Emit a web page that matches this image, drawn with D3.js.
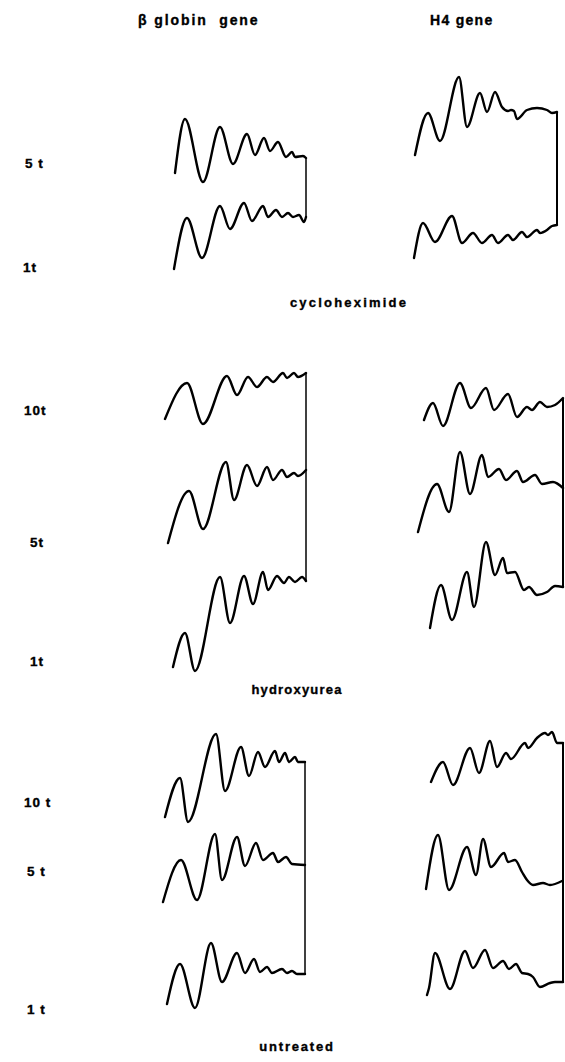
<!DOCTYPE html>
<html><head><meta charset="utf-8">
<script src="https://cdn.jsdelivr.net/npm/d3@7"></script>
<style>
body{margin:0;background:#fff}
svg{display:block}
text{font-family:"Liberation Sans",Arial,sans-serif;font-weight:bold;fill:#000;stroke:#000;stroke-width:0.35px}
</style></head>
<body><svg width="565" height="1062"></svg>
<script>
// Column headers, treatments and lane labels
const genes = ["β globin  gene", "H4 gene"];
const treatments = ["cycloheximide", "hydroxyurea", "untreated"];
const laneLabels = ["5 t", "1t", "10t", "5t", "1t", "10 t", "5 t", "1 t"];

// Densitometer traces: [migration distance, absorbance] (arbitrary units)
// cycloheximide
const cycloBeta5t = [[15,17],[25,71],[43,8],[60,63],[73,26],[87,56],[95,35],[104,52],[110,39],[118,48],[126,33],[132,38],[135,33],[143,34],[146,32]];
const cycloBeta1t = [[14,6],[27,57],[42,17],[60,69],[70,46],[84,72],[92,54],[103,69],[108,58],[116,65],[122,58],[128,62],[133,58],[139,60],[144,53],[146,58]];
const cycloH4_5t = [[5,35],[18,77],[30,49],[49,113],[57,63],[70,97],[77,78],[85,98],[92,83],[98,79],[101,80],[104,79],[107,71],[117,80],[127,82],[137,80],[142,77],[147,78]];
const cycloH4_1t = [[4,17],[13,52],[25,33],[42,59],[52,32],[63,42],[72,32],[82,40],[88,32],[98,40],[103,35],[112,43],[117,38],[127,45],[130,42],[137,45],[142,49],[147,50]];
// hydroxyurea
const hydroBeta10t = [[5,11],[27,47],[43,6],[67,54],[77,35],[88,53],[97,43],[107,53],[113,48],[123,57],[127,52],[134,57],[138,53],[146,57]];
const hydroBeta5t = [[8,2],[29,54],[43,16],[66,83],[74,45],[87,80],[97,59],[107,78],[113,65],[122,75],[127,68],[134,72],[138,69],[146,75]];
const hydroBeta1t = [[13,8],[25,42],[35,4],[60,98],[70,52],[84,99],[93,71],[103,103],[108,85],[117,99],[124,92],[129,98],[135,93],[142,98],[146,94]];
const hydroH4_10t = [[14,10],[23,27],[33,4],[50,47],[61,22],[76,42],[84,20],[98,36],[107,13],[117,23],[122,20],[130,28],[137,23],[145,25],[153,32]];
const hydroH4_5t = [[8,13],[27,61],[39,33],[50,93],[60,51],[72,90],[78,68],[89,76],[96,65],[107,74],[113,63],[125,70],[132,61],[143,63],[153,57]];
const hydroH4_1t = [[20,47],[31,90],[42,55],[57,103],[64,68],[76,133],[85,100],[93,117],[97,102],[105,103],[114,85],[119,88],[127,80],[137,83],[145,89],[153,88]];
// untreated
const untrBeta10t = [[5,8],[20,47],[28,3],[56,91],[65,34],[81,78],[89,49],[98,73],[105,58],[115,74],[119,63],[125,72],[129,63],[135,68],[138,63],[145,63]];
const untrBeta5t = [[3,3],[21,45],[37,5],[55,71],[62,25],[77,68],[85,39],[96,62],[103,45],[113,52],[118,43],[126,48],[132,41],[145,40]];
const untrBeta1t = [[7,6],[20,46],[35,2],[51,67],[62,28],[77,57],[85,37],[94,51],[100,38],[107,43],[112,37],[122,41],[127,37],[132,39],[137,36],[145,36]];
const untrH4_10t = [[21,43],[33,63],[43,40],[60,77],[69,52],[80,84],[87,58],[96,72],[101,66],[115,82],[118,77],[127,87],[135,92],[138,90],[142,93],[147,82],[153,82]];
const untrH4_5t = [[16,16],[28,70],[39,15],[57,58],[66,30],[73,66],[81,38],[94,52],[98,43],[105,45],[112,33],[117,25],[123,20],[133,22],[140,20],[152,24]];
const untrH4_1t = [[17,15],[19,22],[25,57],[40,21],[55,59],[63,42],[75,60],[83,42],[93,49],[99,41],[106,46],[112,37],[118,36],[123,33],[130,23],[140,27],[145,28],[153,28]];

// ---- layout ----
const svg = d3.select("svg");
const colStart = [160, 410];
const xScales = colStart.map(x0 => d3.scaleLinear().domain([0, 150]).range([x0, x0 + 150]));

const rows = [
  {base:190,  lx:25, ly:168,  traces:[cycloBeta5t, cycloH4_5t]},
  {base:275,  lx:23, ly:272,  traces:[cycloBeta1t, cycloH4_1t]},
  {base:430,  lx:24, ly:415,  traces:[hydroBeta10t, hydroH4_10t]},
  {base:545,  lx:30, ly:547,  traces:[hydroBeta5t, hydroH4_5t]},
  {base:675,  lx:30, ly:666,  traces:[hydroBeta1t, hydroH4_1t]},
  {base:825,  lx:24, ly:807,  traces:[untrBeta10t, untrH4_10t]},
  {base:905,  lx:27, ly:876,  traces:[untrBeta5t, untrH4_5t]},
  {base:1010, lx:27, ly:1014, traces:[untrBeta1t, untrH4_1t]}
];
rows.forEach(r => { r.y = d3.scaleLinear().domain([0, 100]).range([r.base, r.base - 100]); });

const groups = [
  {rows:[0,1],   cx:349, cy:307,  ls:2.2},
  {rows:[2,3,4], cx:297, cy:694,  ls:1.2},
  {rows:[5,6,7], cx:297, cy:1051, ls:1.8}
];

// headers
const headerX = [138, 430];
const headerLS = [1.9, 1.3];
genes.forEach((g, i) => {
  svg.append("text").attr("x", headerX[i]).attr("y", 25)
    .attr("font-size", 14).attr("letter-spacing", headerLS[i])
    .style("white-space", "pre")
    .text(g);
});

// traces and lane labels
rows.forEach((r, ri) => {
  r.traces.forEach((tr, ci) => {
    const gen = d3.line()
      .x(d => xScales[ci](d[0]))
      .y(d => r.y(d[1]))
      .curve(d3.curveMonotoneX);
    svg.append("path").attr("d", gen(tr))
      .attr("fill", "none").attr("stroke", "#000")
      .attr("stroke-width", 2.4).attr("stroke-linejoin", "round").attr("stroke-linecap", "round");
  });
  svg.append("text").attr("x", r.lx).attr("y", r.ly)
    .attr("font-size", 13.5).attr("letter-spacing", 1).style("white-space", "pre")
    .text(laneLabels[ri]);
});

// brackets joining trace ends, and treatment captions
groups.forEach((g, gi) => {
  [0, 1].forEach(ci => {
    const top = rows[g.rows[0]], bot = rows[g.rows[g.rows.length - 1]];
    const tEnd = top.traces[ci][top.traces[ci].length - 1];
    const bEnd = bot.traces[ci][bot.traces[ci].length - 1];
    const x = xScales[ci](tEnd[0]);
    svg.append("line")
      .attr("x1", x).attr("x2", x)
      .attr("y1", top.y(tEnd[1])).attr("y2", bot.y(bEnd[1]))
      .attr("stroke", "#000").attr("stroke-width", ci === 0 ? 1.5 : 2);
  });
  svg.append("text").attr("x", g.cx).attr("y", g.cy)
    .attr("text-anchor", "middle").attr("font-size", 13).attr("letter-spacing", g.ls)
    .text(treatments[gi]);
});
</script>
</body></html>
